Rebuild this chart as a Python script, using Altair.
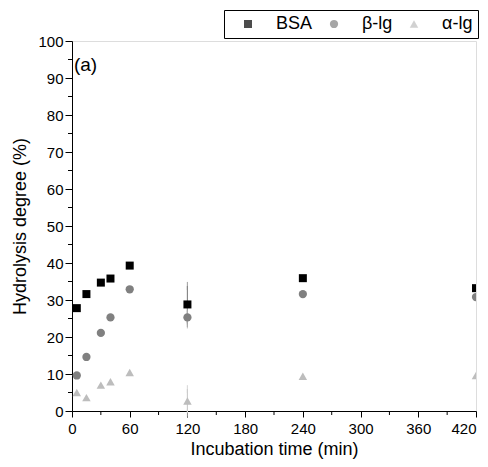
import altair as alt
import pandas as pd

series_names = ["BSA", "β-lg", "α-lg"]
times = [5, 15, 30, 40, 60, 120, 240, 420]
bsa = [27.8, 31.6, 34.7, 35.8, 39.3, 28.8, 35.9, 33.2]
blg = [9.6, 14.6, 21.1, 25.3, 32.9, 25.3, 31.6, 30.8]
alg = [5.0, 3.6, 7.0, 7.9, 10.4, 2.7, 9.4, 9.6]
bsa_err = [0, 0, 0, 0, 0, 5.0, 0, 0]
blg_err = [0, 0, 0, 0, 0, 1.9, 0, 0]
alg_err = [0, 0, 0, 0, 0, 3.2, 0, 0]

x_major = [0, 60, 120, 180, 240, 300, 360, 420]
x_minor = [30, 90, 150, 210, 270, 330, 390]
y_major = [0, 10, 20, 30, 40, 50, 60, 70, 80, 90, 100]
y_minor = [5, 15, 25, 35, 45, 55, 65, 75, 85, 95]

colors = ["#000000", "#808080", "#bdbdbd"]
err_colors = ["#888888", "#aaaaaa", "#cccccc"]
shapes = ["square", "circle", "triangle-up"]

rows = []
for name, vals, errs, ec in zip(series_names, [bsa, blg, alg], [bsa_err, blg_err, alg_err], err_colors):
    for t, v, e in zip(times, vals, errs):
        rows.append({"t": t, "v": v, "lo": v - e, "hi": v + e, "err": e, "series": name, "ecol": ec})
df = pd.DataFrame(rows)
err_df = df[df["err"] > 0]

FONT = "Liberation Sans"

xscale = alt.Scale(domain=[0, 420], nice=False, zero=False)
yscale = alt.Scale(domain=[0, 100], nice=False)

xaxis = alt.Axis(
    title="Incubation time (min)",
    values=x_major,
    labelAlign={"condition": {"test": "datum.value === 420", "value": "right"}, "value": "center"},
    labelOverlap=False,
    tickSize=6, grid=False, labelFontSize=15, titleFontSize=18, titleFontWeight="normal",
    labelPadding=4, titlePadding=4, domainColor="#000", tickColor="#000",
    labelColor="#000", titleColor="#000", labelFont=FONT, titleFont=FONT,
    labelFlush=False,
)
yaxis = alt.Axis(
    title="Hydrolysis degree (%)",
    values=y_major, labelOverlap=False,
    tickSize=7, grid=False, labelFontSize=15, titleFontSize=18, titleFontWeight="normal",
    labelPadding=2, titlePadding=8, domainColor="#000", tickColor="#000",
    labelColor="#000", titleColor="#000", labelFont=FONT, titleFont=FONT,
)

legend = alt.Legend(title=" ", titleOrient="left", titleFontSize=10, titlePadding=10,
                    orient="none", direction="horizontal",
                    legendX=152, legendY=-31, strokeColor="#000",
                    padding=5, labelFontSize=18, labelFont=FONT,
                    labelColor="#000", symbolSize=55, symbolOpacity=1, columnPadding=12,
                    labelOffset=19, symbolStrokeWidth=0)

X = alt.X("t:Q", scale=xscale, axis=xaxis)
Y = alt.Y("v:Q", scale=yscale, axis=yaxis)

points = alt.Chart(df).mark_point(filled=True, opacity=1, clip=True).encode(
    x=X,
    y=Y,
    color=alt.Color("series:N", scale=alt.Scale(domain=series_names, range=colors),
                    sort=series_names, legend=legend),
    shape=alt.Shape("series:N", scale=alt.Scale(domain=series_names, range=shapes),
                    sort=series_names, legend=legend),
    size=alt.Size("series:N", scale=alt.Scale(domain=series_names, range=[64, 72, 95]),
                  legend=None),
)

ecolor = alt.Color("ecol:N", scale=None)
rules = alt.Chart(err_df).mark_rule(strokeWidth=1.2).encode(
    x=X,
    y=alt.Y("lo:Q", scale=yscale, axis=yaxis),
    y2="hi:Q",
    color=ecolor,
)
caps = alt.Chart(err_df).mark_tick(thickness=1.2, size=8).encode(
    x=X,
    y=alt.Y("hi:Q", scale=yscale, axis=yaxis),
    color=ecolor,
)
caps_lo = caps.encode(y=alt.Y("lo:Q", scale=yscale, axis=yaxis))

xminor_df = pd.DataFrame({"t": x_minor})
xminor = alt.Chart(xminor_df).mark_rule(color="#000", strokeWidth=1).encode(
    x=X, y=alt.value(370), y2=alt.value(374))
yminor_df = pd.DataFrame({"v": y_minor})
yminor = alt.Chart(yminor_df).mark_rule(color="#000", strokeWidth=1).encode(
    y=Y, x=alt.value(0), x2=alt.value(-4))

label_df = pd.DataFrame({"t": [2], "v": [93.6], "txt": ["(a)"]})
label = alt.Chart(label_df).mark_text(align="left", baseline="middle", fontSize=19,
                                      font=FONT, color="#000").encode(
    x=X, y=Y, text="txt:N")

chart = alt.layer(rules, caps, caps_lo, points, xminor, yminor, label).properties(
    width=404, height=370,
    autosize=alt.AutoSizeParams(type="none"),
    padding={"left": 64, "top": 33, "right": 4, "bottom": 48},
).configure_view(stroke="#000", strokeWidth=1).configure(background="white")

chart.save("out.html", embed_options={"renderer": "svg", "actions": False})
